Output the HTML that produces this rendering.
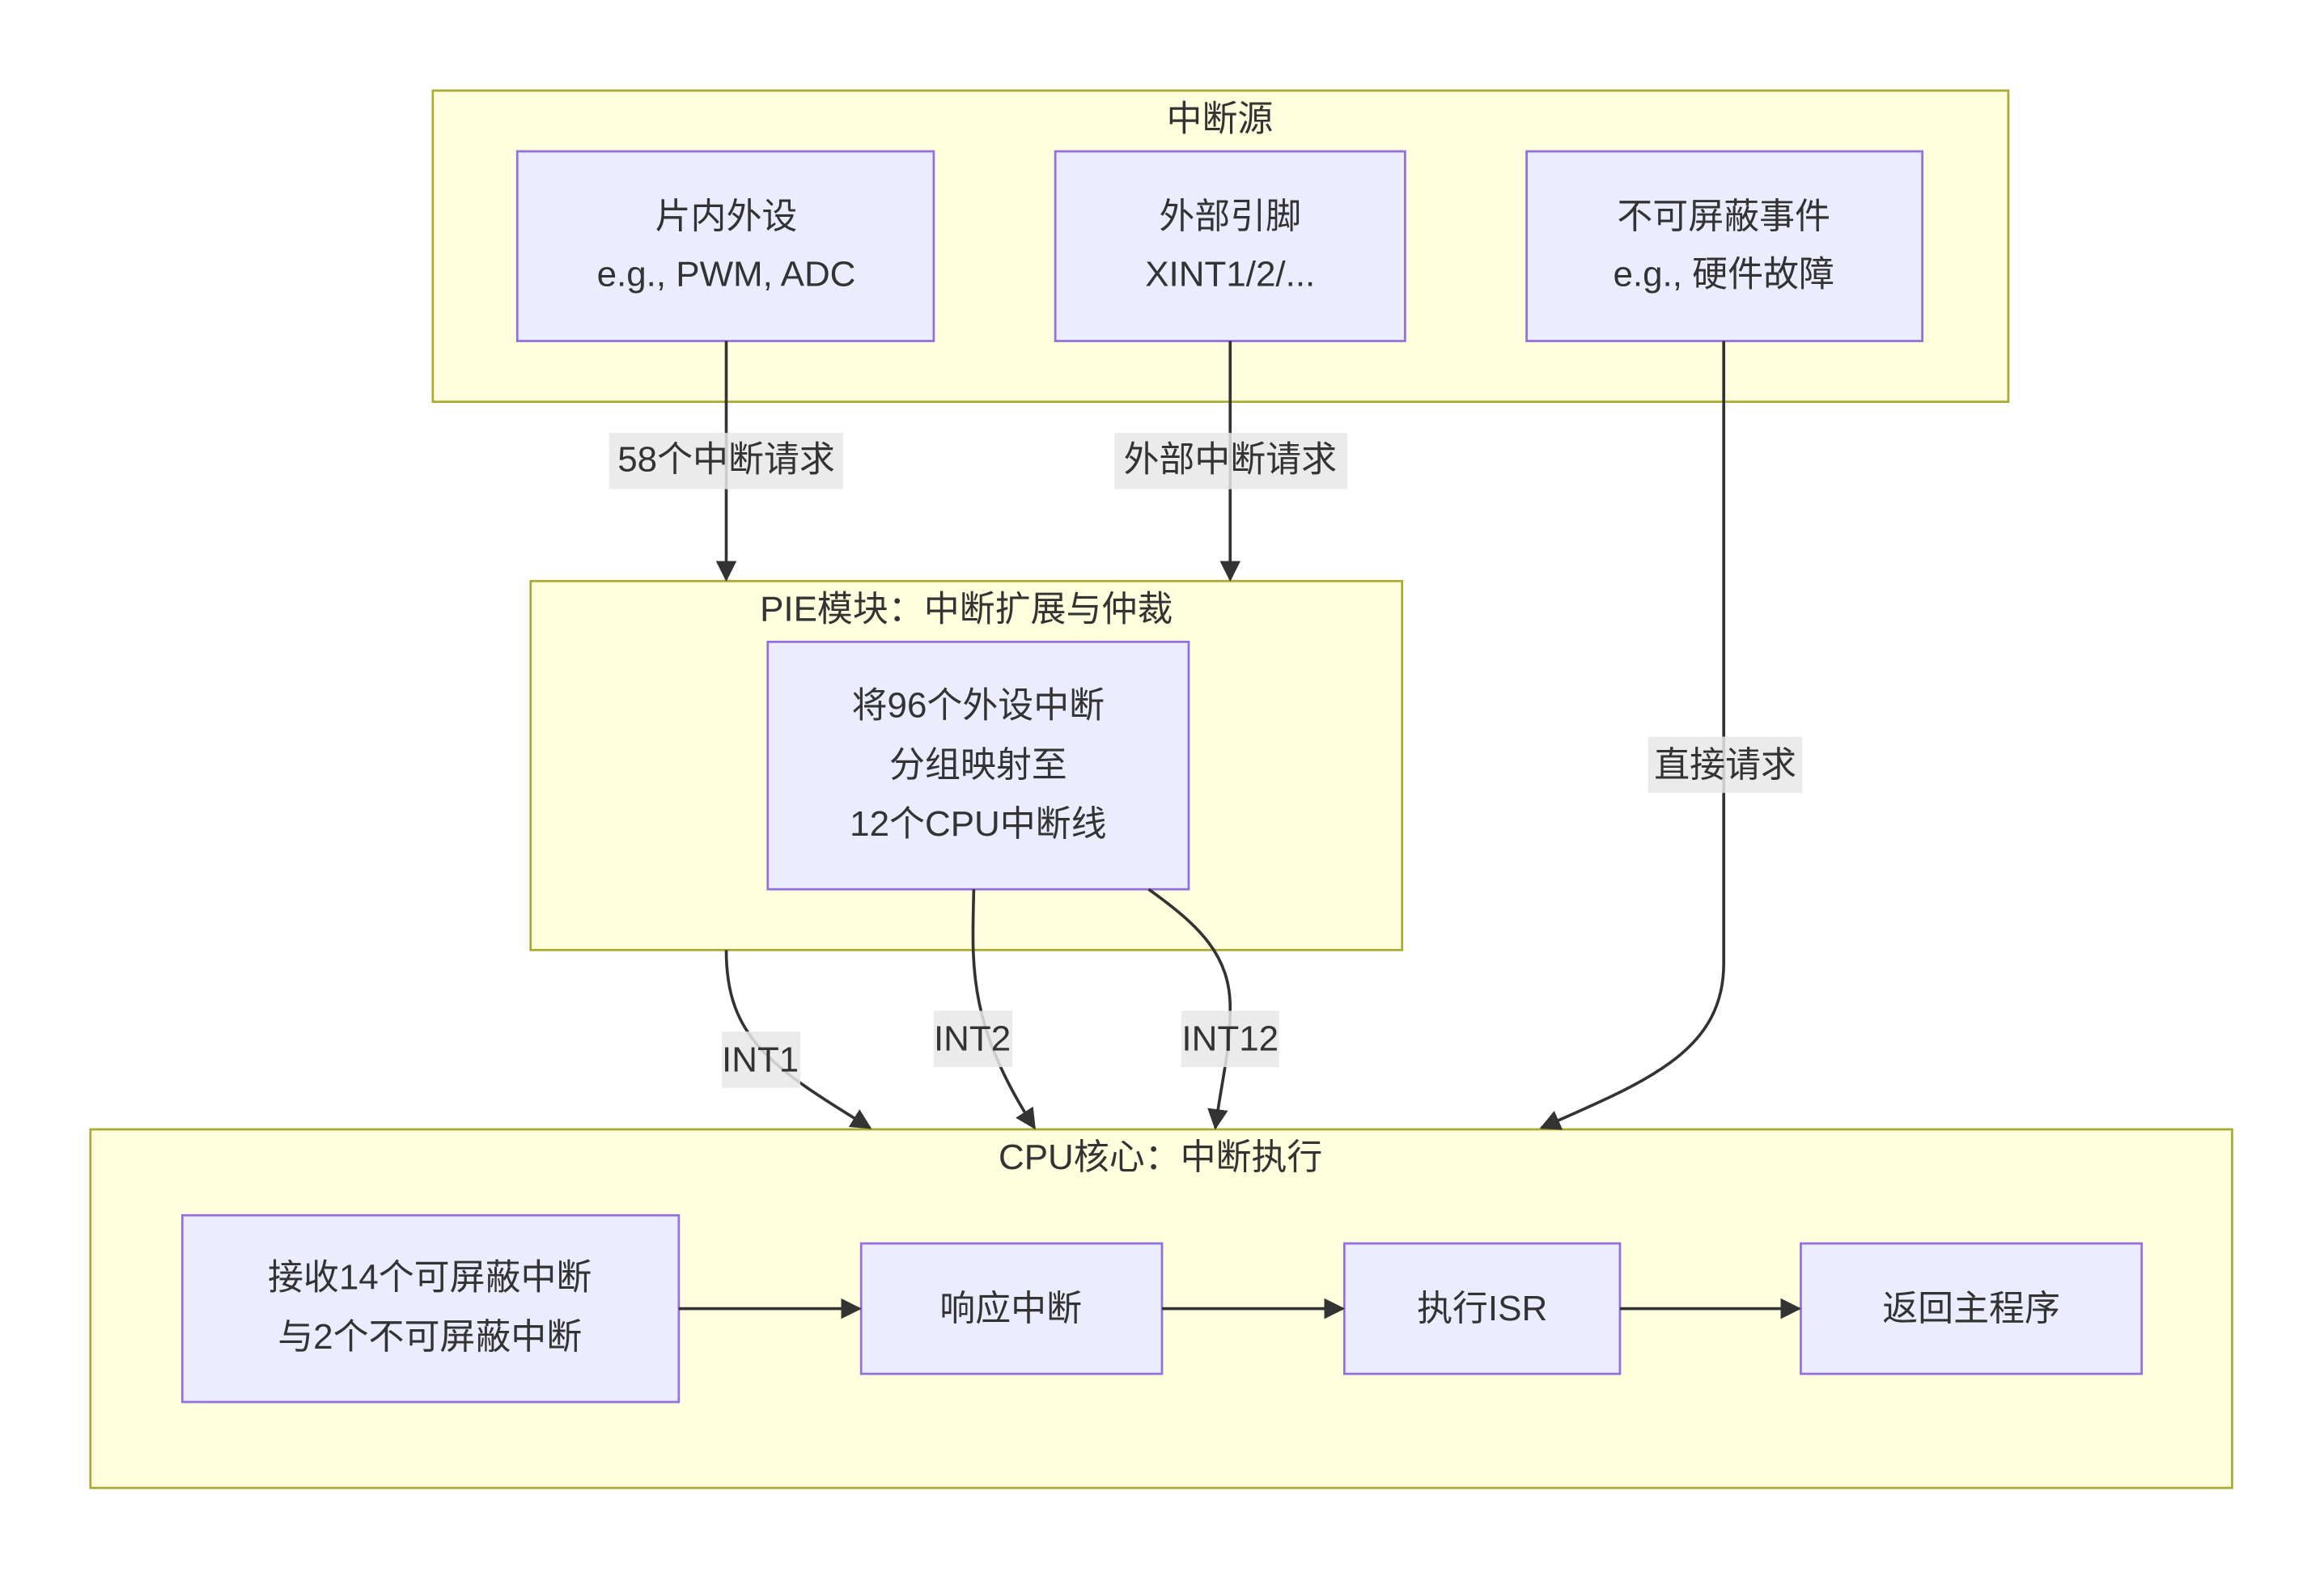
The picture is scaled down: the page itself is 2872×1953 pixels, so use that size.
<!DOCTYPE html>
<html><head><meta charset="utf-8"><style>
html,body{margin:0;padding:0;background:#fff;}
svg{display:block;}
text{font-family:"Liberation Sans","Noto Sans CJK SC",sans-serif;fill:#333;font-size:24px;text-anchor:middle;dominant-baseline:central;}
.c{fill:#ffffde;stroke:#aaaa33;stroke-width:1.5;}
.n{fill:#ececff;stroke:#9370db;stroke-width:1.5;}
.e{fill:none;stroke:#333;stroke-width:2;}
.l{fill:#e8e8e8;opacity:0.85;}
</style></head><body>
<svg width="2872" height="1953" viewBox="0 0 1568 1066" xmlns="http://www.w3.org/2000/svg">
<defs><marker id="a" viewBox="0 0 10 10" refX="9" refY="5" markerWidth="8" markerHeight="8" orient="auto-start-reverse" markerUnits="userSpaceOnUse"><path d="M0,0L10,5L0,10z" fill="#333"/></marker>
<marker id="b" viewBox="0 0 10 10" refX="9" refY="5" markerWidth="14" markerHeight="14" orient="auto" markerUnits="userSpaceOnUse"><path d="M0,0L10,5L0,10z" fill="#333"/></marker></defs>

<rect class="c" x="292" y="61" width="1063" height="210"/>
<text x="823" y="80">中断源</text>
<rect class="c" x="358" y="392" width="588" height="249"/>
<text x="652" y="411">PIE模块：中断扩展与仲裁</text>
<rect class="c" x="61" y="762" width="1445" height="242"/>
<text x="783" y="781">CPU核心：中断执行</text>

<rect class="n" x="349" y="102" width="281" height="128"/>
<text x="490" y="146">片内外设</text><text x="490" y="185">e.g., PWM, ADC</text>
<rect class="n" x="712" y="102" width="236" height="128"/>
<text x="830" y="146">外部引脚</text><text x="830" y="185">XINT1/2/...</text>
<rect class="n" x="1030" y="102" width="267" height="128"/>
<text x="1163" y="146">不可屏蔽事件</text><text x="1163" y="185">e.g., 硬件故障</text>

<rect class="n" x="518" y="433" width="284" height="167"/>
<text x="660" y="476">将96个外设中断</text><text x="660" y="516">分组映射至</text><text x="660" y="556">12个CPU中断线</text>

<rect class="n" x="123" y="820" width="335" height="126"/>
<text x="290" y="862">接收14个可屏蔽中断</text><text x="290" y="902">与2个不可屏蔽中断</text>
<rect class="n" x="581" y="839" width="203" height="88"/><text x="682" y="883">响应中断</text>
<rect class="n" x="907" y="839" width="186" height="88"/><text x="1000" y="883">执行ISR</text>
<rect class="n" x="1215" y="839" width="230" height="88"/><text x="1330" y="883">返回主程序</text>

<path class="e" marker-end="url(#b)" d="M490,230V391"/>
<path class="e" marker-end="url(#b)" d="M830,230V391"/>
<path class="e" marker-end="url(#b)" d="M1163,230V650C1163,710 1110,730 1040,761"/>
<path class="e" marker-end="url(#b)" d="M490,641C490,700 520,720 587,761"/>
<path class="e" marker-end="url(#b)" d="M657,600C656,650 652,690 698,761"/>
<path class="e" marker-end="url(#b)" d="M775,600C810,625 830,645 830,680C830,710 824,730 820,761"/>
<path class="e" marker-end="url(#b)" d="M458,883H580"/>
<path class="e" marker-end="url(#b)" d="M784,883H906"/>
<path class="e" marker-end="url(#b)" d="M1093,883H1214"/>

<rect class="l" x="411" y="292" width="158" height="38"/><text x="490" y="310">58个中断请求</text>
<rect class="l" x="752" y="292" width="157" height="38"/><text x="830" y="310">外部中断请求</text>
<rect class="l" x="1112" y="497" width="104" height="38"/><text x="1164" y="516">直接请求</text>
<rect class="l" x="487" y="696" width="53" height="38"/><text x="513" y="715">INT1</text>
<rect class="l" x="630" y="682" width="53" height="38"/><text x="656" y="701">INT2</text>
<rect class="l" x="797" y="682" width="66" height="38"/><text x="830" y="701">INT12</text>
</svg>
</body></html>
